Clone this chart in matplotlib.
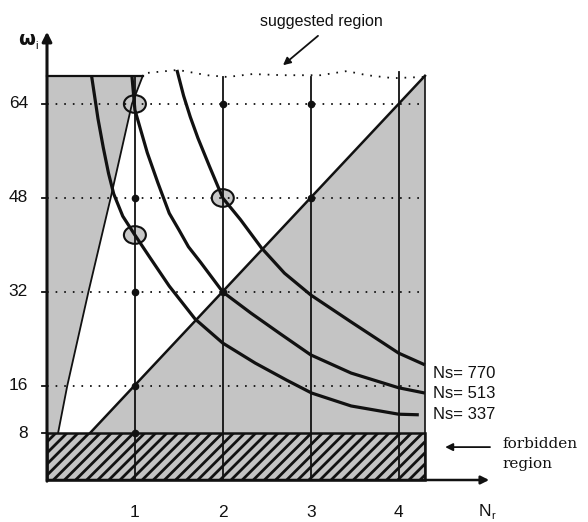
import matplotlib
matplotlib.use("Agg")
import matplotlib.pyplot as plt
from matplotlib.patches import Polygon, Rectangle, Ellipse

plt.rcParams['font.family'] = ['Liberation Sans', 'DejaVu Sans']
plt.rcParams['lines.scale_dashes'] = False
plt.rcParams['hatch.linewidth'] = 2.0

# ---- data -------------------------------------------------------------
x_ticks = [1, 2, 3, 4]
y_ticks = [8, 16, 32, 48, 64]
grid_levels = [16, 32, 48, 64]

N_MAX = 4.3           # right edge of the design space
W_TOP = 68.8          # top of the design space
W_FORBID = 8          # forbidden region below this omega

# constant-Ns curves (Nr, omega)
ns_labels = ["Ns= 770", "Ns= 513", "Ns= 337"]
ns_label_w = [18.2, 14.8, 11.1]
ns770_N = [1.478, 1.554, 1.630, 1.717, 1.848, 2.0, 2.202, 2.44, 2.702, 3.0, 3.46, 4.0, 4.299]
ns770_w = [69.8, 65.4, 61.8, 58.2, 53.4, 48.0, 44.3, 39.5, 35.2, 31.5, 26.9, 21.6, 19.6]
ns513_N = [0.966, 1.0, 1.141, 1.261, 1.391, 1.5, 1.609, 1.75, 2.0, 2.321, 2.643, 3.0, 3.46, 4.0, 4.299]
ns513_w = [68.8, 63.0, 55.7, 50.6, 45.4, 42.6, 39.7, 37.0, 32.0, 28.4, 25.0, 21.3, 18.2, 15.7, 14.8]
ns337_N = [0.506, 0.540, 0.580, 0.640, 0.700, 0.759, 0.862, 1.0, 1.174, 1.391, 1.685, 2.0, 2.369,
           2.726, 3.011, 3.46, 4.0, 4.23]
ns337_w = [68.9, 65.5, 61.5, 56.6, 52.2, 48.7, 44.9, 41.7, 37.8, 33.0, 27.4, 23.3, 19.9,
           17.0, 14.8, 12.6, 11.2, 11.1]

# boundaries of the shaded regions
left_N = [0.126, 0.23, 0.471, 0.724, 0.966, 1.09]
left_w = [8, 16, 32, 48, 64, W_TOP]
diag_N = [0.49, N_MAX]
diag_w = [8, W_TOP]

# upper boundary of the suggested region
top_N = [1.149, 1.49, 1.82, 2.05, 2.34, 2.68, 3.11, 3.41, 3.64, 3.94, 4.28]
top_w = [69.3, 69.8, 68.9, 68.6, 69.1, 68.9, 68.9, 69.6, 68.9, 68.4, 68.6]

# design points and highlighted choices
pts_N = [1, 1, 1, 1, 2, 2, 3, 3]
pts_w = [48, 32, 16, 8, 64, 32, 64, 48]
circ_N = [1, 1, 2]
circ_w = [64, 41.7, 48]

# vertical lines at the Nr values (top ends)
vlines_N = [1, 2, 3, 4]
vlines_top = [68.8, 68.6, 68.6, 69.4]

# ---- figure -----------------------------------------------------------
PX_X, PX_Y = 87.9, 5.875           # pixels per data unit
fig = plt.figure(figsize=(5.88, 5.22), dpi=100)
ax = fig.add_axes([0, 0, 1, 1])
ax.set_xlim(-47 / PX_X, (588 - 47) / PX_X)
ax.set_ylim(-(522 - 480) / PX_Y, 480 / PX_Y)
ax.axis('off')

INK = '#111111'
GRAY = '#c4c4c4'

# shaded regions
left_poly = [(0, W_FORBID), (0, W_TOP)] + list(zip(left_N[::-1], left_w[::-1]))
ax.add_patch(Polygon(left_poly, closed=True, facecolor=GRAY, edgecolor='none', zorder=1))
right_poly = [(diag_N[0], diag_w[0]), (diag_N[1], diag_w[1]), (N_MAX, W_FORBID)]
ax.add_patch(Polygon(right_poly, closed=True, facecolor=GRAY, edgecolor='none', zorder=1))
ax.plot(left_N, left_w, color=INK, lw=1.3, zorder=4)
ax.plot([0, left_N[-1]], [W_TOP, W_TOP], color=INK, lw=1.6, zorder=4)
ax.plot(diag_N, diag_w, color=INK, lw=1.8, zorder=4)
ax.plot([N_MAX, N_MAX], [0, diag_w[1]], color=INK, lw=1.2, zorder=4)

# forbidden region
ax.add_patch(Rectangle((0, 0), N_MAX, W_FORBID, facecolor=GRAY, edgecolor='none', zorder=2))
ax.add_patch(Rectangle((0, 0), N_MAX, W_FORBID, facecolor='none', edgecolor=INK,
                       hatch='///', lw=1.8, zorder=2))

# highlighted choices: shaded interior below the lines
for n, w in zip(circ_N, circ_w):
    ax.add_patch(Ellipse((n, w), 0.25, 3.0, facecolor='#c8c8c8', edgecolor='none', zorder=2.5))

# dotted grid
for w in grid_levels:
    ax.plot([0, N_MAX], [w, w], color=INK, lw=1.3, dashes=(1.2, 5.0), zorder=3)

# dotted upper boundary
ax.plot(top_N, top_w, color=INK, lw=1.3, dashes=(1.2, 5.0), zorder=3)

# vertical Nr lines
for n, t in zip(vlines_N, vlines_top):
    ax.plot([n, n], [0, t], color=INK, lw=1.3, zorder=3)

# constant-Ns curves
for cn, cw in [(ns770_N, ns770_w), (ns513_N, ns513_w), (ns337_N, ns337_w)]:
    ax.plot(cn, cw, color=INK, lw=2.3, solid_joinstyle='round', solid_capstyle='butt', zorder=5)

# design points
ax.plot(pts_N, pts_w, 'o', color=INK, ms=4.5, zorder=6)
for n, w in zip(circ_N, circ_w):
    ax.add_patch(Ellipse((n, w), 0.25, 3.0, facecolor='none', edgecolor=INK,
                         lw=1.5, zorder=7))

# axes with arrows
ax.annotate('', xy=(0, 76.3), xytext=(0, -0.2),
            arrowprops=dict(arrowstyle='-|>', lw=2.2, color=INK, mutation_scale=14,
                            shrinkA=0, shrinkB=0), zorder=8)
ax.annotate('', xy=(5.03, 0), xytext=(0, 0),
            arrowprops=dict(arrowstyle='-|>', lw=1.8, color=INK, mutation_scale=12,
                            shrinkA=0, shrinkB=0), zorder=8)

# y ticks and labels
for w in y_ticks:
    ax.plot([-0.06, 0], [w, w], color=INK, lw=1.3, zorder=8)
    ax.text(-0.215, w, str(w), ha='right', va='center', fontsize=12.5, color=INK)
for n in x_ticks:
    ax.text(n, -5.5, str(n), ha='center', va='center', fontsize=12.5, color=INK)

# axis titles
ax.text(-0.235, 74.9, 'ω', ha='center', va='center', fontsize=14, fontweight='bold',
        color=INK, family='DejaVu Sans')
ax.text(-0.12, 73.9, 'i', ha='center', va='center', fontsize=8, color=INK)
ax.text(4.98, -5.3, 'N', ha='center', va='center', fontsize=12.5, color=INK)
ax.text(5.07, -6.2, 'r', ha='center', va='center', fontsize=8, color=INK)

# curve labels
for lab, w in zip(ns_labels, ns_label_w):
    ax.text(4.39, w, lab, ha='left', va='center', fontsize=12, color=INK)

# annotations
ax.text(3.12, 78.0, 'suggested region', ha='center', va='center', fontsize=11.5, color=INK)
ax.annotate('', xy=(2.685, 70.6), xytext=(3.083, 75.6),
            arrowprops=dict(arrowstyle='-|>', lw=1.3, color=INK, mutation_scale=11,
                            shrinkA=0, shrinkB=0))
ax.text(5.18, 6.2, 'forbidden', ha='left', va='center', fontsize=11, color=INK,
        family='DejaVu Serif')
ax.text(5.18, 2.7, 'region', ha='left', va='center', fontsize=11, color=INK,
        family='DejaVu Serif')
ax.annotate('', xy=(4.53, 5.6), xytext=(5.04, 5.6),
            arrowprops=dict(arrowstyle='-|>', lw=1.3, color=INK, mutation_scale=11,
                            shrinkA=0, shrinkB=0))

fig.savefig('out.png', dpi=100)
